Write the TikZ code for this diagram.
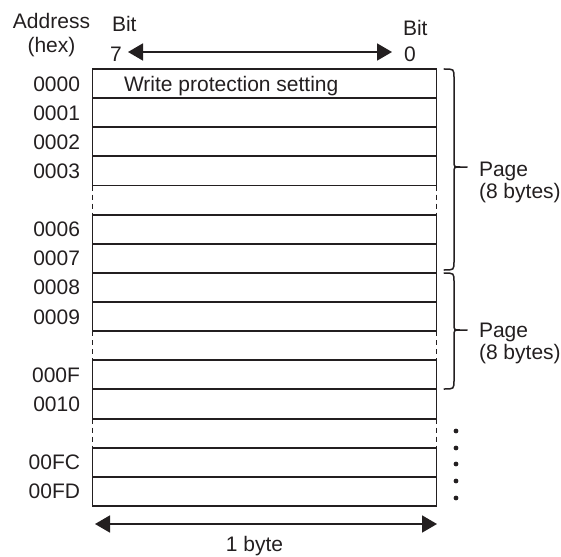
\documentclass[tikz,border=0pt]{standalone}
\usepackage{fontspec}
\setmainfont{Liberation Sans}
\usetikzlibrary{arrows.meta}
\definecolor{ink}{HTML}{231F20}
\begin{document}
\begin{tikzpicture}[x=1pt,y=-1pt,
  every node/.style={inner sep=0pt, outer sep=0pt, text=ink},
  txt/.style={font=\fontsize{21}{25}\selectfont},
  rowbox/.style={draw=ink, line width=1.9pt, minimum width=344pt, minimum height=29.13pt, anchor=north west},
  addr/.style={txt, anchor=base east},
  gapline/.style={draw=ink, line width=1.9pt, dash pattern=on 5pt off 4pt},
  dblarrow/.style={draw=ink, line width=1.8pt, {Triangle[length=15pt,width=17pt]}-{Triangle[length=15pt,width=17pt]}},
  bracel/.style={draw=ink, line width=1.5pt, line cap=round}]
\useasboundingbox (0,0) rectangle (561,556);
% header texts
\node[txt, anchor=base] (addrh) at (51.5,28.3) {Address};
\node[txt, anchor=base] (hexh) at (51.5,52.7) {(hex)};
\node[txt, anchor=base west] (bitl) at (112,31.7) {Bit};
\node[txt, anchor=base west] (b7) at (110,61.7) {7};
\node[txt, anchor=base west] (bitr) at (403,36) {Bit};
\node[txt, anchor=base west] (b0) at (404,61.7) {0};
\coordinate (t7) at (128,52);
\coordinate (t0) at (392,52);
\path[dblarrow] (t7) -- (t0);
% rows
\foreach \k/\lab/\nm in {0/0000/r0,1/0001/r1,2/0002/r2,3/0003/r3,5/0006/r5,6/0007/r6,7/0008/r7,8/0009/r8,10/000F/r10,11/0010/r11,13/00FC/r13,14/00FD/r14}{
  \node[rowbox] (\nm) at (92.5,{69+\k*29.13}) {};
  \node[addr] (a\nm) at (80,{69+\k*29.13+14.56+7.5}) {\lab};
}
\node[txt, anchor=base west] (wp) at (124,91.6) {Write protection setting};
% dashed gaps
\path[gapline] (r3.south west) -- (r5.north west);
\path[gapline] (r3.south east) -- (r5.north east);
\path[gapline] (r8.south west) -- (r10.north west);
\path[gapline] (r8.south east) -- (r10.north east);
\path[gapline] (r11.south west) -- (r13.north west);
\path[gapline] (r11.south east) -- (r13.north east);
% braces
\path[bracel] (444,69) .. controls (454,69) .. (454,78) -- (454,161) .. controls (454,167) .. (460,167) -- (467,167)
  (460,167) .. controls (454,167) .. (454,173) -- (454,261) .. controls (454,270) .. (444,270);
\path[bracel] (444,273) .. controls (454,273) .. (454,282) -- (454,324) .. controls (454,330) .. (460,330) -- (467,330)
  (460,330) .. controls (454,330) .. (454,336) -- (454,380) .. controls (454,389) .. (444,389);
\node[txt, anchor=base west] (pg1) at (479,176) {Page};
\node[txt, anchor=base west] (pb1) at (479,198) {(8 bytes)};
\node[txt, anchor=base west] (pg2) at (479,337) {Page};
\node[txt, anchor=base west] (pb2) at (479,359) {(8 bytes)};
% continuation dots
\foreach \yy in {431,448,464,481,498}{ \fill[ink] (456,\yy) circle (2.4pt); }
% bottom arrow
\coordinate (bl) at (95,524);
\coordinate (br) at (437,524);
\path[dblarrow] (bl) -- (br);
\node[txt, anchor=base] (byte) at (254.5,551.5) {1 byte};
\end{tikzpicture}
\end{document}
